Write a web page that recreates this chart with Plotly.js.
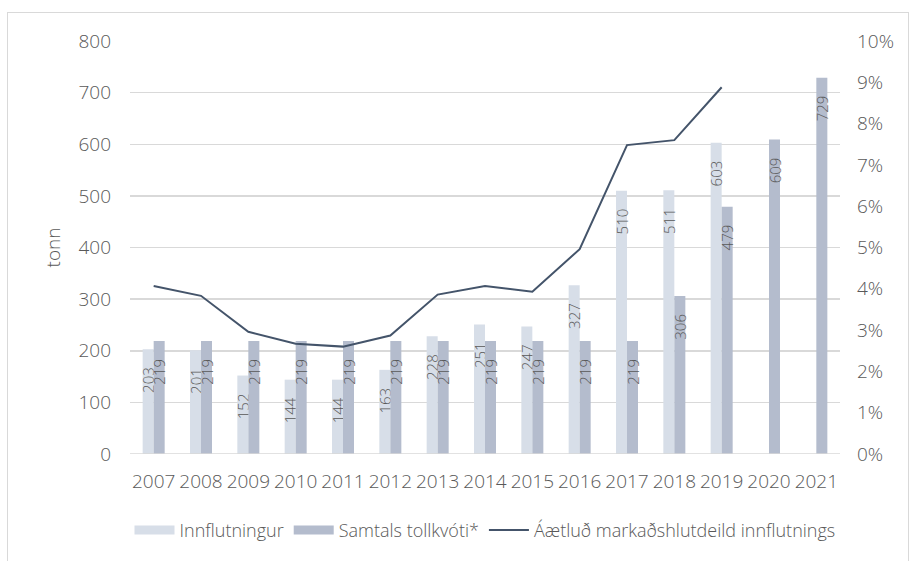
<!DOCTYPE html>
<html>
<head>
<meta charset="utf-8">
<script src="https://cdn.plot.ly/plotly-3.0.1.min.js"></script>
<style>
html,body{margin:0;padding:0;background:#fff;}
#frame{position:absolute;left:7px;top:12px;width:902px;height:560px;border:1px solid #d9d9d9;box-sizing:border-box;}
#chart{position:absolute;left:0;top:0;width:915px;height:561px;}
</style>
</head>
<body>
<div id="frame"></div>
<div id="chart"></div>
<script>
const years = ['2007','2008','2009','2010','2011','2012','2013','2014','2015','2016','2017','2018','2019','2020','2021'];
const innflutningur = [203,201,152,144,144,163,228,251,247,327,510,511,603,null,null];
const tollkvoti = [219,219,219,219,219,219,219,219,219,219,219,306,479,609,729];
const markadshlutdeild = [4.07,3.83,2.96,2.67,2.60,2.87,3.86,4.07,3.93,4.96,7.48,7.60,8.88,null,null];
const leftTicks = [0,100,200,300,400,500,600,700,800];
const rightTicks = [0,1,2,3,4,5,6,7,8,9,10];

const FONT = '"Open Sans", "Noto Sans", sans-serif';
const TXT = '#595959';
const C_LIGHT = '#d7dee8';
const C_DARK = '#b4bccd';
const C_LINE = '#44546a';
const PAD = '\u2002\u2002';

const barText = {textposition:'inside', insidetextanchor:'end', textangle:-90, constraintext:'none',
  textfont:{family:FONT, size:15, color:TXT, weight:300}, cliponaxis:false};

const traces = [
  Object.assign({type:'bar', name:'Innflutningur', x:years, y:innflutningur,
    text:innflutningur.map(v=>v==null?'':String(v)+PAD), marker:{color:C_LIGHT}, showlegend:false, hoverinfo:'y'}, barText),
  Object.assign({type:'bar', name:'Samtals tollkvóti*', x:years, y:tollkvoti,
    text:tollkvoti.map(v=>String(v)+PAD), marker:{color:C_DARK}, showlegend:false, hoverinfo:'y'}, barText),
  {type:'scatter', mode:'lines', name:'Áætluð markaðshlutdeild innflutnings', x:years, y:markadshlutdeild,
    yaxis:'y2', line:{color:C_LINE, width:2}, showlegend:false},
  {type:'scatter', mode:'lines', name:'Innflutningur', x:[null], y:[null], line:{color:C_LIGHT, width:9}},
  {type:'scatter', mode:'lines', name:'Samtals tollkvóti*', x:[null], y:[null], line:{color:C_DARK, width:9}},
  {type:'scatter', mode:'lines', name:'Áætluð markaðshlutdeild innflutnings', x:[null], y:[null], line:{color:C_LINE, width:2}}
];

const TF = {size:19, color:TXT, family:FONT, weight:300};
const layout = {
  width:915, height:561,
  margin:{l:130, r:75, t:41, b:105},
  paper_bgcolor:'rgba(0,0,0,0)', plot_bgcolor:'rgba(0,0,0,0)',
  font:{family:FONT, color:TXT, size:18, weight:300},
  barmode:'group', bargap:0.535, bargroupgap:0,
  xaxis:{type:'category', tickfont:TF, tickangle:0, showgrid:false, zeroline:false,
    showline:false, ticks:'', ticklabelstandoff:14, fixedrange:true},
  yaxis:{range:[0,800], tickvals:leftTicks, ticktext:leftTicks.map(String), showgrid:true, gridcolor:'#d9d9d9', gridwidth:1.5,
    zeroline:false, showline:false, ticks:'', ticklabelstandoff:18, tickfont:TF,
    title:{text:'tonn', font:TF, standoff:12}},
  yaxis2:{range:[0,10], overlaying:'y', side:'right', tickvals:rightTicks, ticktext:rightTicks.map(v=>v+'%'),
    showgrid:false, zeroline:false, showline:false, ticks:'', ticklabelstandoff:16, tickfont:TF},
  legend:{orientation:'h', x:0.5, xanchor:'center', y:-0.14, yanchor:'top',
    font:{size:18, color:TXT, family:FONT, weight:300}, itemwidth:40, tracegroupgap:0},
  shapes:[{type:'line', xref:'paper', yref:'y', x0:0, x1:1, y0:0, y1:0, line:{color:'#d9d9d9', width:1.5}}],
  showlegend:true
};

Plotly.newPlot('chart', traces, layout, {displayModeBar:false, staticPlot:true});
</script>
</body>
</html>
